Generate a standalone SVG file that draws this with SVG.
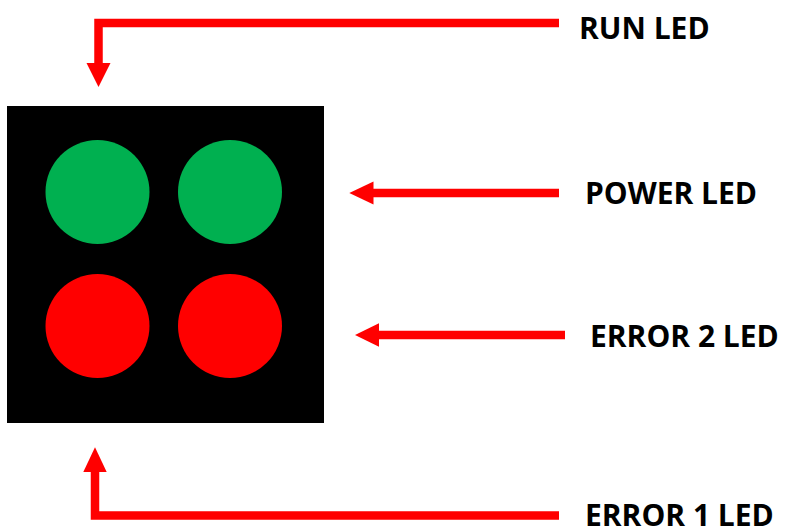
<svg xmlns="http://www.w3.org/2000/svg" width="788" height="531" viewBox="0 0 788 531">
<defs>
<style>
.lbl{font-family:"Open Sans","Noto Sans","Liberation Sans",sans-serif;font-weight:bold;font-size:30px;fill:#000}
.wire{fill:none;stroke:#ff0000;stroke-width:8.5;stroke-linejoin:miter;stroke-linecap:butt}
.head{fill:#ff0000}
</style>
</defs>
<rect width="788" height="531" fill="#fff"/>
<g id="panel">
<rect x="7" y="106" width="317" height="317" fill="#000"/>
<circle cx="97.5" cy="192" r="52" fill="#00b050"/>
<circle cx="230" cy="192" r="52" fill="#00b050"/>
<circle cx="97.5" cy="326" r="52" fill="#ff0000"/>
<circle cx="230" cy="326" r="52" fill="#ff0000"/>
</g>
<g id="connectors">
<polyline class="wire" points="559,23 98.5,23 98.5,64"/>
<polygon class="head" points="86.5,63 110.5,63 98.5,87"/>
<line class="wire" x1="559" y1="193" x2="372" y2="193"/>
<polygon class="head" points="373.5,181.5 373.5,204.5 349.3,193"/>
<line class="wire" x1="565" y1="335" x2="378" y2="335"/>
<polygon class="head" points="379,323.3 379,346.7 355,335"/>
<polyline class="wire" points="559,515.5 95,515.5 95,471"/>
<polygon class="head" points="83.3,472 106.7,472 95,447.3"/>
</g>
<g id="run-led"><text class="lbl" x="579" y="39">RUN LED</text></g>
<g id="power-led"><text class="lbl" x="585" y="204">POWER LED</text></g>
<g id="error2-led"><text class="lbl" x="590" y="347">ERROR 2 LED</text></g>
<g id="error1-led"><text class="lbl" x="585" y="526">ERROR 1 LED</text></g>
</svg>
